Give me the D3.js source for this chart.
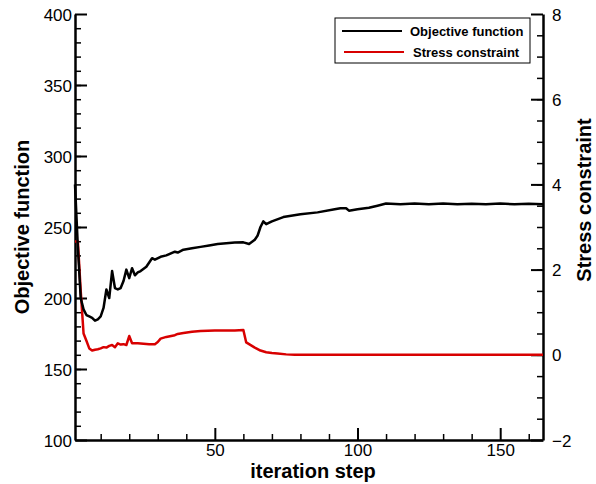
<!DOCTYPE html>
<html>
<head>
<meta charset="utf-8">
<script src="https://cdn.jsdelivr.net/npm/d3@7"></script>
<style>
    body { margin: 0; background: #fff; }
    svg { display: block; font-family: "Liberation Sans", Arial, sans-serif; }
</style>
</head>
<body>
<div id="chart"></div>
<script>
// objective function history
const objSteps = [1, 2, 3, 4, 5, 6, 7, 8, 9, 10, 11, 12, 13, 14, 15, 16, 17, 18, 19, 20, 21, 22, 23, 24, 26, 27, 28, 29, 31,
    33, 36, 37, 39, 42, 45, 48, 51, 54, 57, 60, 62, 64, 65, 66, 67, 68, 70, 74, 80, 86, 92, 94, 96, 97, 100, 104,
    107, 110, 115, 120, 125, 130, 135, 140, 145, 150, 155, 160, 165];
const objective = [280, 236, 200, 192, 188, 187, 186, 184, 185, 187, 193, 206, 200, 219, 207, 206, 207, 212, 220, 214, 221, 216, 218, 219, 222, 225, 228, 227, 229,
    230, 232.6, 232, 234, 235, 236, 237, 238, 238.5, 239, 239.2, 238, 241, 244, 250, 254, 252, 254, 257, 259, 260.3, 262.5, 263.2, 263.2, 261.5, 262.5, 263.6,
    265, 266.5, 266, 266.5, 266, 266.5, 266, 266.3, 266, 266.5, 266, 266.4, 266];

// stress constraint history
const stressSteps = [1, 2, 3, 4, 5, 6, 7, 8, 9, 10, 11, 12, 13, 14, 15, 16, 17, 18, 19, 20, 21, 23, 25, 27, 29, 30, 31, 33, 36, 37, 39,
    42, 45, 50, 55, 57, 60, 61, 62, 64, 66, 68, 70, 72, 75, 78, 80, 90, 100, 110, 120, 130, 140, 150, 160, 165];
const stress = [2.66, 2.66, 1.5, 0.5, 0.33, 0.15, 0.1, 0.12, 0.13, 0.15, 0.18, 0.17, 0.21, 0.23, 0.18, 0.27, 0.24, 0.25, 0.23, 0.44, 0.27, 0.27, 0.26, 0.25, 0.25, 0.3, 0.38, 0.42, 0.46, 0.49, 0.51,
    0.54, 0.56, 0.57, 0.57, 0.57, 0.58, 0.29, 0.25, 0.17, 0.1, 0.06, 0.04, 0.03, 0.01, 0, 0, 0, 0, 0, 0, 0, 0, 0, 0, 0];

// axis ticks
const xMajor = [50, 100, 150];
const xMinor = [10, 20, 30, 40, 60, 70, 80, 90, 110, 120, 130, 140, 160];
const leftMajor = [100, 150, 200, 250, 300, 350, 400];
const rightMajor = [-2, 0, 2, 4, 6, 8];

const seriesNames = ['Objective function', 'Stress constraint'];
const seriesColors = ['#000000', '#d80000'];

function drawChart() {
    let margin = {top: 14, right: 53, bottom: 44, left: 75},
        width = 596 - margin.left - margin.right,
        height = 484 - margin.top - margin.bottom;

    let svg = d3.select('#chart').append('svg')
        .attr('width', 596)
        .attr('height', 484)
        .append('g')
        .attr('transform', 'translate(' + margin.left + ',' + margin.top + ')');

    let x = d3.scaleLinear().domain([1, 165]).range([0, width]);
    let yLeft = d3.scaleLinear().domain([100, 400]).range([height, 0]);
    let yRight = d3.scaleLinear().domain([-2, 8]).range([height, 0]);

    // minor ticks first, majors drawn over them
    svg.append('g')
        .attr('class', 'minor')
        .attr('transform', 'translate(0,' + height + ')')
        .call(d3.axisBottom(x).tickValues(xMinor).tickSize(-6).tickFormat(''));
    svg.append('g')
        .attr('class', 'minor')
        .call(d3.axisLeft(yLeft).tickValues(d3.range(110, 400, 10)).tickSize(-6).tickFormat(''));
    svg.append('g')
        .attr('class', 'minor')
        .attr('transform', 'translate(' + width + ',0)')
        .call(d3.axisRight(yRight).tickValues(d3.range(-1.5, 8, 0.5)).tickSize(-6).tickFormat(''));

    svg.append('g')
        .attr('class', 'major')
        .attr('transform', 'translate(0,' + height + ')')
        .call(d3.axisBottom(x).tickValues(xMajor).tickSizeInner(-12).tickSizeOuter(0).tickPadding(4));
    svg.append('g')
        .attr('class', 'major left')
        .call(d3.axisLeft(yLeft).tickValues(leftMajor).tickSizeInner(-12).tickSizeOuter(0).tickPadding(3));
    svg.append('g')
        .attr('class', 'major right')
        .attr('transform', 'translate(' + width + ',0)')
        .call(d3.axisRight(yRight).tickValues(rightMajor).tickSizeInner(-12).tickSizeOuter(0).tickPadding(9));

    svg.selectAll('.minor .domain').remove();
    svg.selectAll('.minor line').attr('stroke', '#000').attr('stroke-width', 1.5);
    svg.selectAll('.major line').attr('stroke', '#000').attr('stroke-width', 2);
    svg.selectAll('.major .domain').attr('stroke', '#000').attr('stroke-width', 2.5);
    svg.selectAll('.major text')
        .attr('fill', '#000')
        .style('font-size', '17px')
        .style('font-family', '"Liberation Sans", Arial, sans-serif');
    svg.selectAll('.major text').filter(function () { return this.closest('.left') || this.closest('.right'); })
        .attr('dy', '0.36em');

    // the lines
    let objLine = d3.line()
        .x((d, i) => x(objSteps[i]))
        .y(d => yLeft(d));
    let stressLine = d3.line()
        .x((d, i) => x(stressSteps[i]))
        .y(d => yRight(d));

    svg.append('path')
        .datum(stress)
        .attr('fill', 'none')
        .attr('stroke', seriesColors[1])
        .attr('stroke-width', 2.5)
        .attr('stroke-linejoin', 'round')
        .attr('d', stressLine);
    svg.append('path')
        .datum(objective)
        .attr('fill', 'none')
        .attr('stroke', seriesColors[0])
        .attr('stroke-width', 2.5)
        .attr('stroke-linejoin', 'round')
        .attr('d', objLine);

    // axis titles
    svg.append('text')
        .attr('transform', 'translate(' + (29 - margin.left) + ',' + (227 - margin.top) + ') rotate(-90)')
        .style('text-anchor', 'middle')
        .style('font-size', '20px')
        .style('font-weight', 'bold')
        .text('Objective function');
    svg.append('text')
        .attr('transform', 'translate(' + (591 - margin.left) + ',' + (200 - margin.top) + ') rotate(-90)')
        .style('text-anchor', 'middle')
        .style('font-size', '20px')
        .style('font-weight', 'bold')
        .text('Stress constraint');
    svg.append('text')
        .attr('x', 313 - margin.left)
        .attr('y', 478 - margin.top)
        .style('text-anchor', 'middle')
        .style('font-size', '20px')
        .style('font-weight', 'bold')
        .text('iteration step');

    // legend
    let legend = svg.append('g')
        .attr('transform', 'translate(' + (335 - margin.left) + ',' + (18 - margin.top) + ')');
    legend.append('rect')
        .attr('width', 195)
        .attr('height', 45)
        .attr('fill', '#fff')
        .attr('stroke', '#000')
        .attr('stroke-width', 1);
    seriesNames.forEach((name, i) => {
        let row = legend.append('g').attr('transform', 'translate(0,' + (13 + i * 21) + ')');
        row.append('line')
            .attr('x1', 7 + i * 2)
            .attr('x2', 67 + i * 2)
            .attr('stroke', seriesColors[i])
            .attr('stroke-width', 2);
        row.append('text')
            .attr('x', 75 + i * 3)
            .attr('dy', '0.36em')
            .style('font-size', '13px')
            .style('font-weight', 'bold')
            .text(name);
    });
}

drawChart();
</script>
</body>
</html>
